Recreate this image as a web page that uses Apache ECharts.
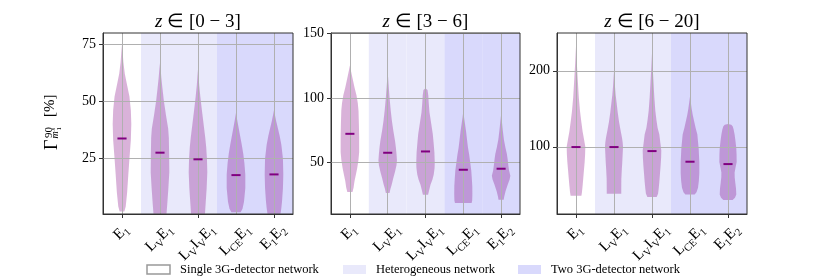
<!DOCTYPE html>
<html><head><meta charset="utf-8">
<script src="https://cdn.jsdelivr.net/npm/echarts@6/dist/echarts.min.js"></script>
<style>html,body{margin:0;padding:0;background:#fff}#c{width:830px;height:277px}</style>
</head><body><div id="c"></div>
<script>
// ---------------- DATA ----------------
const categories = ['E1', 'LVE1', 'LVIVE1', 'LCEE1', 'E1E2'];
// label pieces: [text, 'n' normal | 's' subscript]
const categoryLabelParts = [
  [['E','n'],['1','s']],
  [['L','n'],['V','s'],['E','n'],['1','s']],
  [['L','n'],['V','s'],['I','n'],['V','s'],['E','n'],['1','s']],
  [['L','n'],['CE','s'],['E','n'],['1','s']],
  [['E','n'],['1','s'],['E','n'],['2','s']]
];
// 0 = single 3G detector, 1 = heterogeneous, 2 = two 3G detectors
const networkType = [0, 1, 1, 2, 2];
const legendLabels = ['Single 3G-detector network', 'Heterogeneous network', 'Two 3G-detector network'];
const panelRanges = ['0 − 3', '3 − 6', '6 − 20'];

const yTicks_z0_3 = [25, 50, 75];
const yTicks_z3_6 = [50, 100, 150];
const yTicks_z6_20 = [100, 200];

const medians_z0_3 = [33.7, 27.5, 24.6, 17.7, 18.0];
const medians_z3_6 = [72.3, 57.7, 58.7, 44.6, 45.4];
const medians_z6_20 = [99.6, 99.6, 94.3, 80.3, 77.2];

// violin profiles: [value, relative density (0..1)]
const violins_z0_3 = [
  [[1.8,0.25],[4,0.4],[10,0.55],[18,0.68],[25,0.8],[33,0.95],[40,1.0],[46,0.95],[52,0.8],[57,0.55],[62,0.3],[67,0.15],[72,0.06],[74.7,0]],
  [[0.8,0.7],[5,0.78],[12,0.9],[19,1.0],[27,0.98],[34,0.95],[38,0.88],[44,0.64],[50,0.42],[55,0.28],[60,0.15],[64,0.07],[66.7,0]],
  [[0.8,0.75],[4,0.8],[12,0.93],[19,1.0],[25,0.96],[30,0.88],[34,0.78],[40,0.6],[46,0.42],[52,0.25],[57,0.13],[61,0.06],[64,0]],
  [[1.5,0.5],[3,0.7],[6,0.86],[12,1.0],[18,1.0],[23,0.9],[27,0.78],[31,0.62],[34,0.48],[38,0.3],[42,0.12],[45,0]],
  [[0.8,0.7],[3,0.78],[6,0.86],[12,0.96],[18,1.0],[25,0.96],[31,0.79],[35,0.6],[38,0.43],[41,0.25],[44,0.1],[46,0]]
];
const violins_z3_6 = [
  [[27.4,0.28],[31,0.4],[36,0.5],[41,0.65],[46,0.79],[52,0.92],[58,1.0],[70,1.0],[80,0.97],[90,0.93],[96,0.85],[102,0.71],[108,0.5],[115,0.29],[120,0.14],[124.9,0]],
  [[26.7,0.2],[30,0.3],[33,0.43],[38,0.6],[43,0.79],[48,0.95],[52,1.0],[57,0.95],[62,0.88],[67,0.79],[75,0.6],[82,0.46],[90,0.33],[100,0.2],[110,0.1],[116,0.04],[120,0]],
  [[25.4,0.28],[29,0.4],[33,0.54],[37,0.75],[41,0.89],[46,0.98],[50,1.0],[58,0.96],[65,0.88],[72,0.79],[80,0.62],[89,0.43],[96,0.35],[102,0.3],[106,0.22],[107.4,0]],
  [[19,0.9],[21,0.96],[26,0.98],[32,0.97],[38,0.92],[44,0.86],[50,0.75],[56,0.64],[62,0.5],[68,0.4],[74,0.3],[80,0.18],[85,0.08],[89.5,0]],
  [[21.5,0.28],[24,0.34],[28,0.48],[33,0.71],[37,0.92],[40,1.0],[44,0.86],[48,0.78],[53,0.7],[57,0.62],[62,0.46],[68,0.3],[75,0.18],[82,0.08],[87,0]]
];
const violins_z6_20 = [
  [[35.5,0.58],[40,0.64],[50,0.72],[60,0.79],[70,0.86],[80,0.93],[90,0.98],[100,1.0],[110,0.86],[120,0.71],[135,0.55],[147,0.43],[165,0.3],[190,0.18],[210,0.09],[225,0.03],[232,0]],
  [[38,0.78],[45,0.78],[58,0.79],[70,0.84],[80,0.89],[90,0.93],[100,0.97],[106,0.93],[112,0.86],[122,0.7],[133,0.54],[145,0.4],[158,0.28],[168,0.18],[180,0.1],[190,0.05],[199,0]],
  [[34,0.5],[38,0.65],[45,0.72],[54,0.79],[65,0.86],[76,0.93],[86,0.98],[95,1.0],[105,0.9],[116,0.79],[125,0.6],[135,0.48],[147,0.36],[165,0.25],[190,0.14],[205,0.07],[215,0.03],[223,0]],
  [[37,0.5],[40,0.7],[46,0.86],[55,0.95],[65,1.0],[80,1.0],[90,0.96],[98,0.93],[107,0.86],[116,0.79],[125,0.6],[135,0.42],[142,0.29],[150,0.18],[158,0.09],[166,0]],
  [[30,0.5],[33,0.75],[37,0.89],[45,0.86],[52,0.79],[60,0.72],[66,0.71],[72,0.8],[80,0.93],[90,0.92],[98,0.89],[108,0.8],[116,0.71],[123,0.6],[127,0.5],[129,0.35],[130,0]]
];

// ---------------- LAYOUT / STYLE ----------------
const FF = 'Liberation Serif';
const GRID_TOP = 33, GRID_H = 181;
const panels = [
  {left: 103, width: 190, min: 0.7, max: 79.8, ticks: yTicks_z0_3, violins: violins_z0_3, medians: medians_z0_3},
  {left: 331, width: 189, min: 10.5, max: 150, ticks: yTicks_z3_6, violins: violins_z3_6, medians: medians_z3_6},
  {left: 557, width: 190, min: 11.5, max: 249.7, ticks: yTicks_z6_20, violins: violins_z6_20, medians: medians_z6_20}
];
const BG_COLORS = [null, '#e9e9fb', '#d9d9fc'];
const VIOLIN_FILL = 'rgba(128,0,128,0.3)';
const MEDIAN_COLOR = '#800080';
const VIOLIN_HALF = 0.245;  // of band width
const MEDIAN_HALF = 0.12;
const MAIN_FS = 15, SUB_FS = 10.5;

const ctx = document.createElement('canvas').getContext('2d');
function tw(t, fs) { ctx.font = fs + "px '" + FF + "'"; return ctx.measureText(t).width; }
const labelText = categoryLabelParts.map(parts => parts.map(([t, k]) => '{' + k + '|' + t + '}').join(''));
const labelWidth = categoryLabelParts.map(parts => parts.reduce((a, [t, k]) => a + tw(t, k === 'n' ? MAIN_FS : SUB_FS), 0));
const RICH_X = {
  n: {fontFamily: FF, fontSize: MAIN_FS, fill: '#000', color: '#000', verticalAlign: 'bottom', padding: [0, 0, 3, 0]},
  s: {fontFamily: FF, fontSize: SUB_FS, fill: '#000', color: '#000', verticalAlign: 'bottom'}
};

function bgRender(params, api) {
  const i = api.value(0), t = api.value(1);
  if (!BG_COLORS[t]) return null;
  const cs = params.coordSys;
  const cx = api.coord([i, 0])[0];
  const bw = api.size([1, 0])[0];
  return {type: 'rect', shape: {x: cx - bw / 2, y: cs.y, width: bw, height: cs.height}, style: {fill: BG_COLORS[t]}};
}
function violinRender(profiles) {
  return function (params, api) {
    const i = api.value(0);
    const bw = api.size([1, 0])[0];
    const half = bw * VIOLIN_HALF;
    const prof = profiles[i];
    const right = prof.map(([v, d]) => { const p = api.coord([i, v]); return [p[0] + d * half, p[1]]; });
    const left = prof.slice().reverse().map(([v, d]) => { const p = api.coord([i, v]); return [p[0] - d * half, p[1]]; });
    return {type: 'polygon', shape: {points: right.concat(left)}, style: {fill: VIOLIN_FILL}};
  };
}
function medianRender(params, api) {
  const i = api.value(0);
  const bw = api.size([1, 0])[0];
  const m = api.coord([i, api.value(1)]);
  return {type: 'line', shape: {x1: m[0] - MEDIAN_HALF * bw, y1: m[1], x2: m[0] + MEDIAN_HALF * bw, y2: m[1]},
    style: {stroke: MEDIAN_COLOR, lineWidth: 2}};
}

const grid = [], xAxis = [], yAxis = [], series = [];
panels.forEach((p, k) => {
  grid.push({left: p.left, top: GRID_TOP, width: p.width, height: GRID_H, show: true, borderColor: '#333', borderWidth: 1,
    backgroundColor: 'transparent', z: 10, containLabel: false, outerBoundsMode: 'none'});
  xAxis.push({type: 'category', gridIndex: k, data: categories, boundaryGap: true,
    axisLine: {show: true, lineStyle: {color: '#333'}}, axisTick: {show: true, alignWithLabel: true, length: 4, lineStyle: {color: '#333'}},
    axisLabel: {show: false}, splitLine: {show: false}});
  yAxis.push({type: 'value', gridIndex: k, min: p.min, max: p.max,
    axisLine: {show: true, lineStyle: {color: '#333'}},
    axisTick: {show: true, length: 4, customValues: p.ticks, lineStyle: {color: '#333'}},
    axisLabel: {show: true, customValues: p.ticks, fontFamily: FF, fontSize: 14, color: '#000', margin: 7},
    splitLine: {show: false}});
  const catData = categories.map((c, i) => [i]);
  series.push({type: 'custom', xAxisIndex: k, yAxisIndex: k, z: 1, silent: true, clip: false,
    data: networkType.map((t, i) => [i, t]), renderItem: bgRender});
  series.push({type: 'custom', xAxisIndex: k, yAxisIndex: k, z: 2, silent: true,
    data: catData, renderItem: violinRender(p.violins)});
  series.push({type: 'line', xAxisIndex: k, yAxisIndex: k, data: [], silent: true,
    markLine: {silent: true, symbol: 'none', z: 5, label: {show: false}, animation: false,
      lineStyle: {color: '#b0b0b0', width: 1, type: 'solid'},
      data: p.ticks.map(v => ({yAxis: v})).concat(categories.map((c, i) => ({xAxis: i})))}});
  series.push({type: 'custom', xAxisIndex: k, yAxisIndex: k, z: 8, silent: true,
    data: p.medians.map((m, i) => [i, m]), renderItem: medianRender});
});

const graphic = [];
panels.forEach((p, k) => {
  graphic.push({type: 'text', x: p.left + p.width / 2, y: 22,
    style: {text: '{i|z} ∈ [' + panelRanges[k] + ']', font: "19px '" + FF + "'", fill: '#000',
      rich: {i: {fontStyle: 'italic', fontFamily: FF, fontSize: 19, fill: '#000', color: '#000'}},
      align: 'center', verticalAlign: 'middle', textAlign: 'center', textVerticalAlign: 'middle'}});
});
// y-axis title Γ^{90}_{m1^s} [%]
const ya = (t, x, y, font) => ({type: 'text', x: x, y: y,
  style: {text: t, font: font + " '" + FF + "'", fill: '#000', verticalAlign: 'middle', textVerticalAlign: 'middle'}});
graphic.push({type: 'group', x: 58, y: 150, rotation: Math.PI / 2, children: [
  ya('Γ', 0, -6, '18px'),
  ya('90', 12, -8.7, '11px'),
  ya('m', 11.5, -2.4, 'italic 10px'),
  ya('1', 19.5, 0.8, '7px'),
  ya('s', 19.5, -4.6, 'italic 7px'),
  ya('[%]', 33, -7.7, '15px')
]});
// legend
const legendX = [147, 343, 518];
legendLabels.forEach((t, k) => {
  graphic.push({type: 'rect', shape: {x: legendX[k], y: 265, width: 23, height: 9},
    style: k === 0 ? {fill: '#fff', stroke: '#999', lineWidth: 1.5} : {fill: BG_COLORS[k]}});
  graphic.push({type: 'text', x: legendX[k] + 33, y: 270,
    style: {text: t, font: "12.5px '" + FF + "'", fill: '#000', verticalAlign: 'middle', textVerticalAlign: 'middle'}});
});

const chart = echarts.init(document.getElementById('c'), null, {renderer: 'canvas'});
chart.setOption({animation: false, grid, xAxis, yAxis, series});
// rotated category labels, positioned through the axis scales
panels.forEach((p, k) => {
  categories.forEach((c, i) => {
    const pt = chart.convertToPixel({gridIndex: k}, [i, p.min]);
    const off = 10 + (labelWidth[i] + MAIN_FS * 0.8) * Math.SQRT1_2 / 2;
    graphic.push({type: 'text', x: pt[0], y: pt[1] + off, rotation: Math.PI / 4,
      style: {text: labelText[i], rich: RICH_X, fill: '#000', align: 'center', verticalAlign: 'middle', textAlign: 'center', textVerticalAlign: 'middle'}});
  });
});
chart.setOption({graphic: graphic});
</script></body></html>
